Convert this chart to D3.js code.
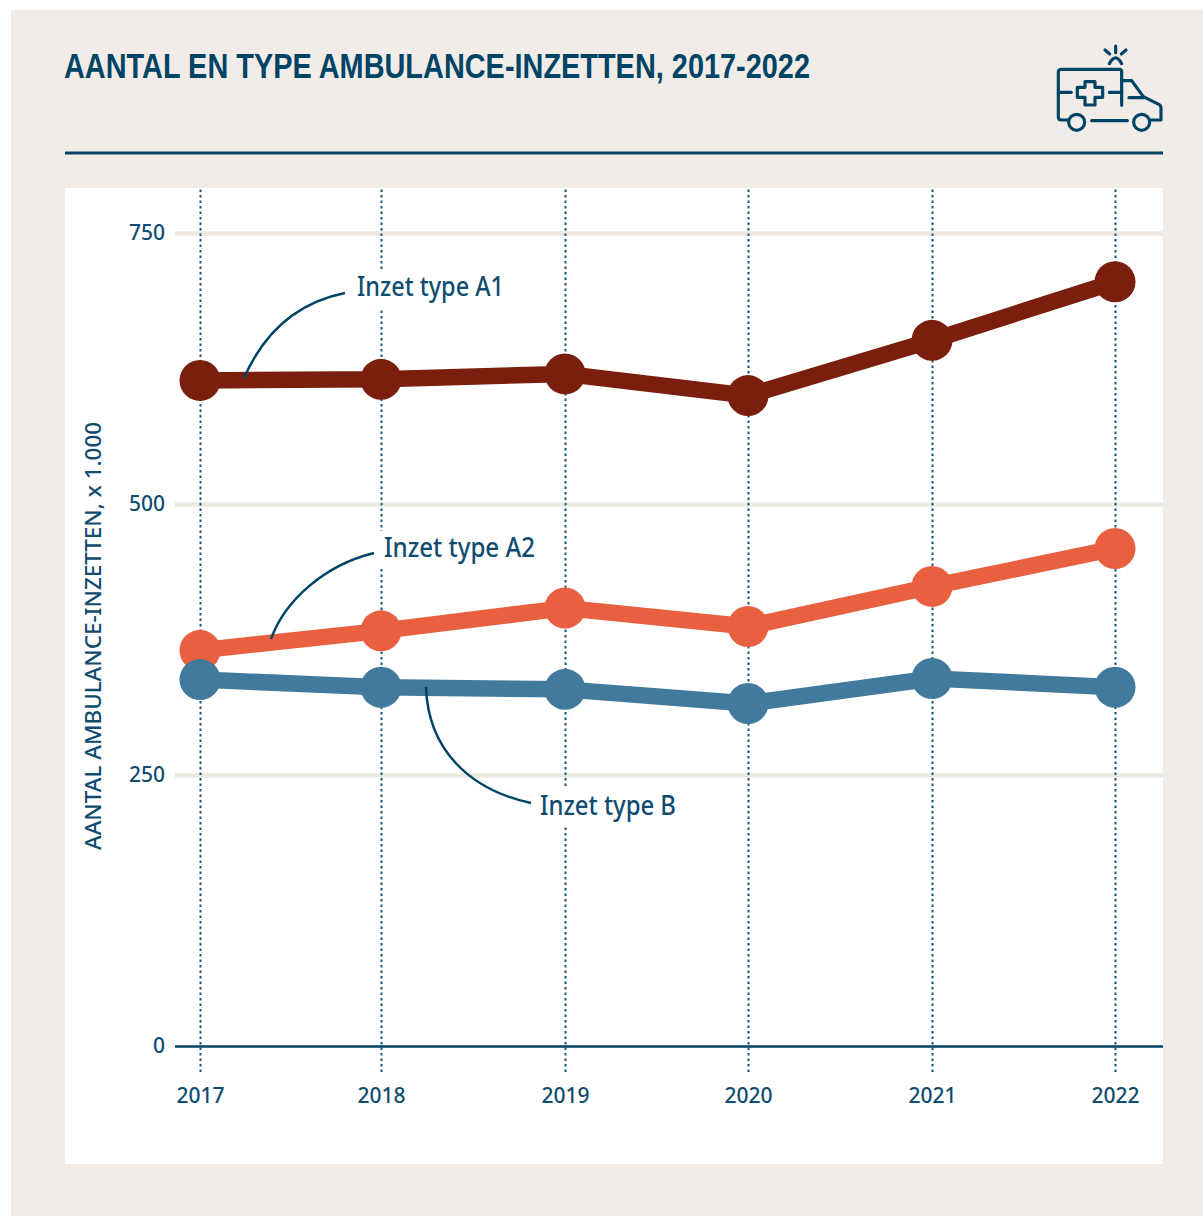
<!DOCTYPE html>
<html>
<head>
<meta charset="utf-8">
<script src="https://cdn.jsdelivr.net/npm/d3@7"></script>
<style>
  html, body { margin: 0; padding: 0; background: #fff; }
  svg { display: block; }
  text { font-family: "Noto Sans", sans-serif; fill: #0f4c70; }
</style>
</head>
<body>
<div id="chart"></div>
<script>
const years = ["2017", "2018", "2019", "2020", "2021", "2022"];
const typeA1 = [614, 615, 620, 600, 651, 705];
const typeA2 = [365, 383, 404, 387, 424, 459];
const typeB = [338, 331, 329, 316, 339, 331];
const yTicks = [0, 250, 500, 750];

const NAVY = "#004465";
const PANEL = "#f1ece8";
const GRID = "#eee8e2";

const svg = d3.select("#chart").append("svg")
  .attr("width", 1203)
  .attr("height", 1216);

svg.append("rect").attr("x", 11).attr("y", 10).attr("width", 1192).attr("height", 1206).attr("fill", PANEL);
svg.append("rect").attr("x", 65).attr("y", 188).attr("width", 1098).attr("height", 976).attr("fill", "#fff");

// Header
svg.append("text")
  .attr("x", 64).attr("y", 78)
  .attr("textLength", 746).attr("lengthAdjust", "spacingAndGlyphs")
  .style("font-family", "'Liberation Sans Narrow', 'Liberation Sans', sans-serif")
  .style("font-weight", 700).style("font-size", "35px").style("fill", NAVY)
  .text("AANTAL EN TYPE AMBULANCE-INZETTEN, 2017-2022");

svg.append("line")
  .attr("x1", 65).attr("x2", 1163).attr("y1", 153).attr("y2", 153)
  .attr("stroke", NAVY).attr("stroke-width", 3);

// Ambulance icon
const icon = svg.append("g")
  .attr("transform", "translate(1030,30) scale(0.3333)")
  .attr("fill", "none").attr("stroke", NAVY).attr("stroke-width", 9.5)
  .attr("stroke-linecap", "round").attr("stroke-linejoin", "round");
[
  "M115,270H94Q85,270 85,261V127Q85,118 94,118H268Q275,118 275,125V226",
  "M275,152H305L340,200L388,224Q393,227 393,234V270H360",
  "M185,272H292",
  "M85,187H124M238,187H275M297,203H340",
  "M165,155H195V172H218V202H195V225H165V202H142V172H165Z",
  "M238,101Q257,66 275,101",
  "M225,60L239,72M257,48V68M288,60L274,72"
].forEach((d) => icon.append("path").attr("d", d));
icon.append("circle").attr("cx", 140).attr("cy", 277).attr("r", 24);
icon.append("circle").attr("cx", 335).attr("cy", 277).attr("r", 24);

// Scales
const x = d3.scaleOrdinal().domain(years).range([200, 381, 565, 748, 932, 1115]);
const y = d3.scaleLinear().domain([0, 750]).range([1046, 233]);

// Horizontal grid
const yAxis = svg.append("g")
  .attr("transform", "translate(175,0)")
  .call(d3.axisLeft(y).tickValues(yTicks).tickSize(-988).tickPadding(10));
yAxis.select(".domain").remove();
yAxis.selectAll(".tick line")
  .attr("stroke", (d) => (d === 0 ? NAVY : GRID))
  .attr("stroke-width", (d) => (d === 0 ? 2.5 : 4.5));
yAxis.selectAll(".tick text")
  .attr("dy", "0.32em")
  .style("font-size", "21px").style("font-weight", 500)
  .style("font-family", "'Noto Sans', sans-serif");

// Vertical dotted lines + year labels
const xAxis = svg.append("g")
  .attr("transform", "translate(0,1072)")
  .call(d3.axisBottom(x).tickSize(-884).tickPadding(12));
xAxis.select(".domain").remove();
xAxis.selectAll(".tick line")
  .attr("stroke", "#10577f").attr("stroke-width", 2)
  .attr("stroke-dasharray", "2.5,3");
xAxis.selectAll(".tick text")
  .attr("dy", "0.9em")
  .style("font-size", "21px").style("font-weight", 500)
  .style("font-family", "'Noto Sans', sans-serif");

// Y axis title
svg.append("text")
  .attr("transform", "translate(101,636) rotate(-90)")
  .attr("text-anchor", "middle")
  .attr("textLength", 428).attr("lengthAdjust", "spacingAndGlyphs")
  .style("font-size", "21px").style("font-weight", 500)
  .text("AANTAL AMBULANCE-INZETTEN, x 1.000");

// Series
const seriesList = [
  { name: "A1", values: typeA1, color: "#7a1f0d" },
  { name: "A2", values: typeA2, color: "#e96040" },
  { name: "B", values: typeB, color: "#417a9c" }
];
const line = d3.line().x((d, i) => x(years[i])).y((d) => y(d));

seriesList.forEach((s) => {
  const g = svg.append("g");
  g.append("path")
    .attr("d", line(s.values))
    .attr("fill", "none").attr("stroke", s.color).attr("stroke-width", 16.5)
    .attr("stroke-linejoin", "round");
  g.selectAll("circle")
    .data(s.values)
    .enter()
    .append("circle")
    .attr("cx", (d, i) => x(years[i]))
    .attr("cy", (d) => y(d))
    .attr("r", 20.5)
    .attr("fill", s.color);
});

// Callouts
const callouts = [
  { text: "Inzet type A1", tx: 357, ty: 296, w: 147, leader: "M345,293C300,302 265,330 244,378" },
  { text: "Inzet type A2", tx: 384, ty: 557, w: 151, leader: "M374,553C325,565 285,600 271,639" },
  { text: "Inzet type B", tx: 540, ty: 815, w: 136, leader: "M426,687C428,750 470,790 531,803" }
];
callouts.forEach((c) => {
  svg.append("rect")
    .attr("x", c.tx - 6).attr("y", c.ty - 26)
    .attr("width", c.w + 12).attr("height", 38)
    .attr("fill", "#fff");
  svg.append("path")
    .attr("d", c.leader)
    .attr("fill", "none").attr("stroke", NAVY).attr("stroke-width", 2.5);
  svg.append("text")
    .attr("x", c.tx).attr("y", c.ty)
    .attr("textLength", c.w).attr("lengthAdjust", "spacingAndGlyphs")
    .style("font-size", "27px").style("font-weight", 500)
    .text(c.text);
});
</script>
</body>
</html>
